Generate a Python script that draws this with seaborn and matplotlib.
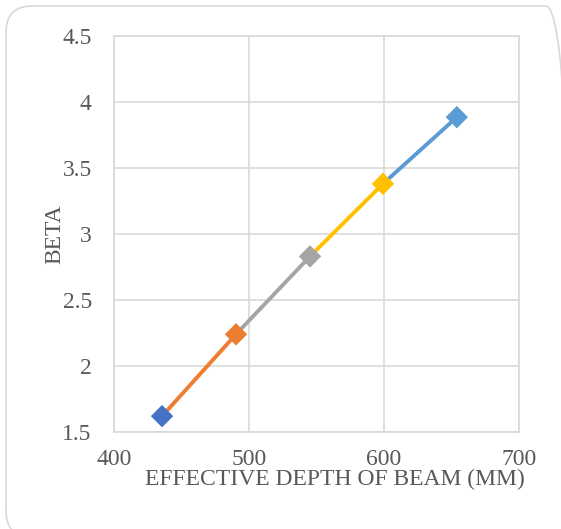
import pandas as pd
import matplotlib.pyplot as plt
import seaborn as sns
from matplotlib.patches import FancyBboxPatch

depth = [435.6, 490.4, 545.2, 599.3, 654.0]
beta = [1.62, 2.24, 2.83, 3.38, 3.885]
point_colors = ['#4472C4', '#ED7D31', '#A5A5A5', '#FFC000', '#5B9BD5']
segment_colors = ['#ED7D31', '#A5A5A5', '#FFC000', '#5B9BD5']

sns.set_theme(style='white')
plt.rcParams['font.family'] = ['Liberation Serif', 'DejaVu Serif']

# each segment joins two neighbouring points
rows = []
for i in range(len(depth) - 1):
    rows.append({'seg': i, 'x': depth[i], 'y': beta[i]})
    rows.append({'seg': i, 'x': depth[i + 1], 'y': beta[i + 1]})
seg_df = pd.DataFrame(rows)
pt_df = pd.DataFrame({'x': depth, 'y': beta, 'pt': range(len(depth))})

fig = plt.figure(figsize=(5.61, 5.29), dpi=100)
ax = fig.add_axes([0.2032, 0.1834, 0.7218, 0.7486])

sns.lineplot(data=seg_df, x='x', y='y', hue='seg', palette=segment_colors,
             linewidth=2.8, legend=False, ax=ax, zorder=2)
sns.scatterplot(data=pt_df, x='x', y='y', hue='pt', palette=point_colors,
                marker='D', s=130, linewidth=0, legend=False, ax=ax, zorder=3)

ax.set_xlim(400, 700)
ax.set_ylim(1.5, 4.5)
ax.set_xticks([400, 500, 600, 700])
ax.set_yticks([1.5, 2, 2.5, 3, 3.5, 4, 4.5])
ax.set_yticklabels(['1.5', '2', '2.5', '3', '3.5', '4', '4.5'])
ax.grid(True, color='#D9D9D9', linewidth=1.2)
for s in ax.spines.values():
    s.set_color('#D9D9D9')
    s.set_linewidth(1.2)
ax.tick_params(colors='#595959', labelsize=17, length=0)
ax.tick_params(axis='y', pad=16)
ax.tick_params(axis='x', pad=12)
ax.set_xlabel('EFFECTIVE DEPTH OF BEAM (MM)', fontsize=17, color='#595959')
ax.set_ylabel('BETA', fontsize=17, color='#595959')
ax.xaxis.set_label_coords(0.546, -0.094)
ax.yaxis.set_label_coords(-0.146, 0.5)
ax.yaxis.label.set_va('center')

# rounded chart-area border, in pixels
border = FancyBboxPatch((6, -8), 566, 531, boxstyle='round,pad=0,rounding_size=26',
                        transform=None, facecolor='none', edgecolor='#D9D9D9', linewidth=1.2)
fig.patches.append(border)

fig.savefig('out.png', dpi=100)
